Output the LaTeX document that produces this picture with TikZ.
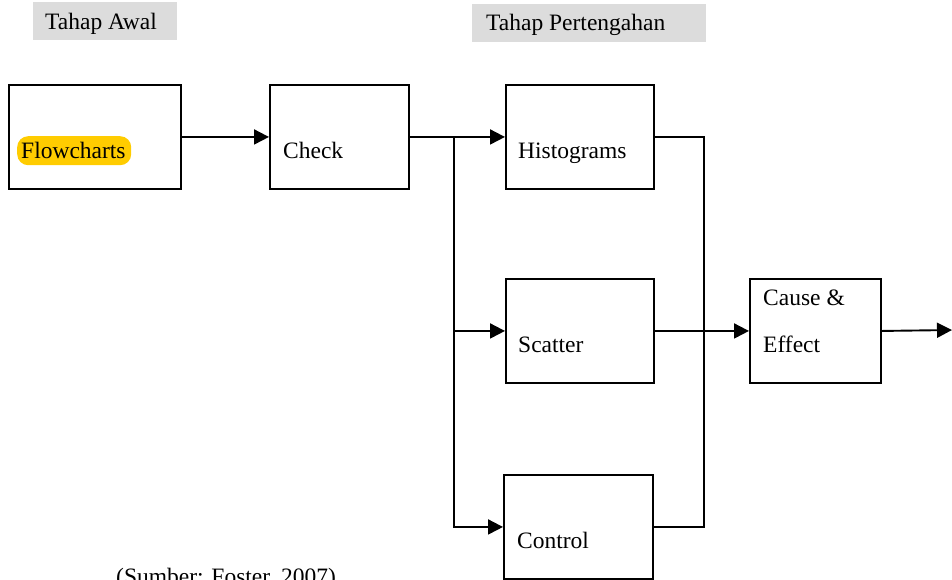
\documentclass[tikz,border=0pt]{standalone}
\usepackage{fontspec}
\setmainfont{Liberation Serif}
\usetikzlibrary{arrows.meta}
\definecolor{tagfill}{HTML}{DCDCDC}
\definecolor{marker}{HTML}{FFCC00}
\begin{document}
\begin{tikzpicture}[x=1pt,y=-1pt,
  every node/.style={font=\fontsize{23.5}{28}\selectfont},
  box/.style={draw,line width=1.9pt,inner sep=0pt,anchor=north west},
  txt/.style={anchor=base west,inner sep=0pt},
  tag/.style={fill=tagfill,inner sep=0pt,anchor=north west},
  link/.style={line width=1.9pt},
  flow/.style={link,-{Triangle[length=15pt,width=15pt]}}]
\useasboundingbox (0,0) rectangle (952,579);

% stage headers
\node[tag,minimum width=144pt,minimum height=38pt] (awal) at (33,2) {};
\node[txt] (awal-t) at (45,29.5) {Tahap Awal};
\node[tag,minimum width=234pt,minimum height=38pt] (tengah) at (472,4) {};
\node[txt] (tengah-t) at (486,30) {Tahap Pertengahan};

% boxes
\node[box,minimum width=172pt,minimum height=104pt] (flow) at (8,84) {};
\node[fill=marker,rounded corners=11pt,minimum width=114pt,minimum height=29pt,inner sep=0pt,anchor=north west] (hl) at (17,136) {};
\node[txt] (flow-t) at (21,158) {Flowcharts};

\node[box,minimum width=139pt,minimum height=104pt] (check) at (269,84) {};
\node[txt] (check-t) at (283,158.5) {Check};

\node[box,minimum width=148pt,minimum height=104pt] (histo) at (505,84) {};
\node[txt] (histo-t) at (518,158.5) {Histograms};

\node[box,minimum width=148pt,minimum height=104pt] (scatter) at (505,278) {};
\node[txt] (scatter-t) at (518,352) {Scatter};

\node[box,minimum width=149pt,minimum height=104pt] (control) at (503,474) {};
\node[txt] (control-t) at (517,548.5) {Control};

\node[box,minimum width=131pt,minimum height=104pt] (cause) at (749,278) {};
\node[txt] (cause-t1) at (763,305.5) {Cause \&};
\node[txt] (cause-t2) at (763,352) {Effect};

\node[txt] (src) at (116,584) {(Sumber: Foster, 2007)};

% junction points
\coordinate (split) at (454,136);
\coordinate (merge) at (704,330);
\coordinate (out) at (952,330);

% connectors
\draw[flow] (flow.east) -- (check.west);
\draw[flow] (check.east) -- (histo.west);
\draw[flow] (split) |- (scatter.west);
\draw[flow] (split) |- (control.west);
\draw[link] (histo.east) -| (merge) |- (control.east);
\draw[flow] (scatter.east) -- (cause.west);
\draw[flow] (cause.east) -- (out);
\end{tikzpicture}
\end{document}
